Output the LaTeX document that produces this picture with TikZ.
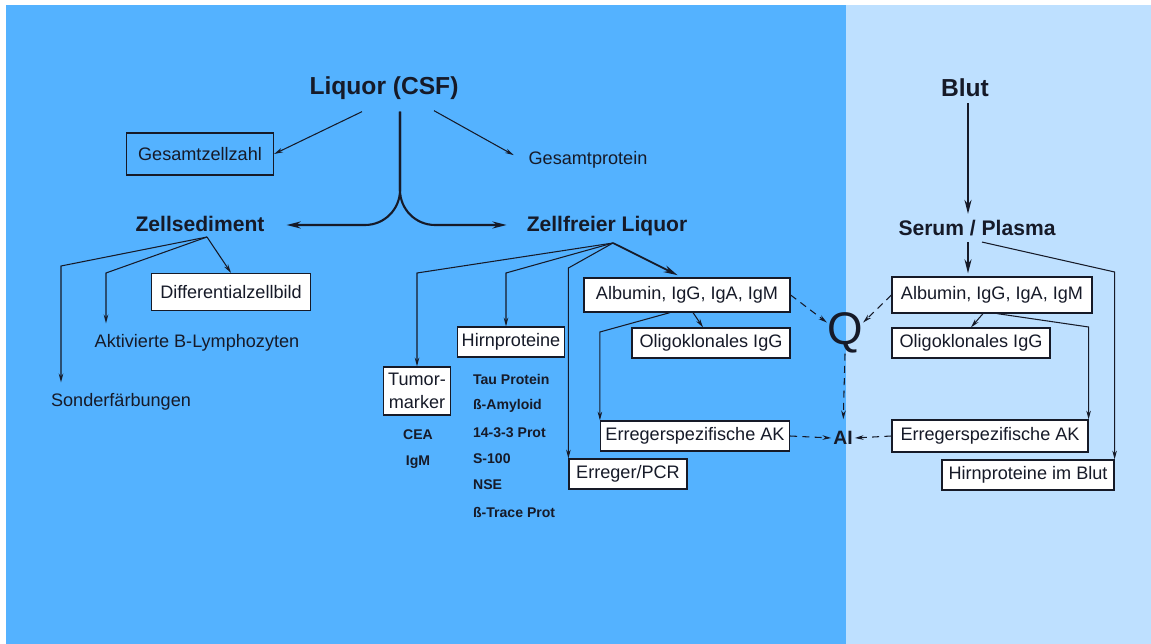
\documentclass[tikz,border=0pt]{standalone}
\usepackage{fontspec}
\setmainfont{Liberation Sans}
\usetikzlibrary{arrows.meta}
\definecolor{liquorblue}{RGB}{84,178,255}
\definecolor{blutblue}{RGB}{190,224,255}
\definecolor{ink}{RGB}{22,26,40}

\begin{document}
\begin{tikzpicture}[x=0.02cm,y=-0.02cm]
    \tikzstyle{every node}=[font=\fontsize{10.3}{12}\selectfont, text=ink]
    \tikzstyle{head}=[font=\fontsize{14}{16}\selectfont\bfseries]
    \tikzstyle{sub}=[font=\fontsize{12}{14}\selectfont\bfseries]
    \tikzstyle{box}=[draw=ink, fill=white, line width=0.7pt, inner xsep=1.5pt, inner ysep=0pt, minimum height=0.6cm]
    \tikzstyle{marker}=[font=\fontsize{8}{10}\selectfont\bfseries, inner sep=1pt]
    \tikzstyle{arr}=[draw=ink, line width=0.6pt, -{Stealth[length=5pt,width=2.6pt]}]
    \tikzstyle{fat}=[draw=ink, line width=1.2pt, -{Stealth[length=8pt,width=4pt]}]
    \tikzstyle{dasharr}=[arr, dash pattern=on 4pt off 3pt]

    \useasboundingbox (0,0) rectangle (1151,644);
    \fill[white] (0,0) rectangle (1151,644);
    \fill[liquorblue] (6,5) rectangle (846,644);
    \fill[blutblue] (846,5) rectangle (1151,644);

    \node[head] (liquor) at (384,88) {Liquor (CSF)};
    \node[head] (blut) at (965,88) {Blut};
    \node[box, fill=none, minimum width=2.94cm, minimum height=0.84cm] (gzz) at (200,154) {Gesamtzellzahl};
    \node (gprot) at (588,160) {Gesamtprotein};
    \node[sub] (zsed) at (200,224) {Zellsediment};
    \node[sub] (zfl) at (607,226) {Zellfreier Liquor};
    \node[sub] (serum) at (977,228) {Serum / Plasma};

    \node[box, minimum width=3.18cm, minimum height=0.74cm] (diff) at (231,292) {Differentialzellbild};
    \node (akt) at (197,343) {Aktivierte B-Lymphozyten};
    \node (sonder) at (121,402) {Sonderfärbungen};

    \node[box, align=center, font=\fontsize{10.3}{13}\selectfont, minimum width=1.34cm, minimum height=0.96cm] (tumor) at (417,391) {Tumor-\\marker};
    \node[marker] (cea) at (418,435) {CEA};
    \node[marker] (igm) at (418,462) {IgM};
    \node[box, minimum width=2.14cm] (hirn) at (511,342) {Hirnproteine};
    \node[marker, anchor=west] (tau) at (471,379) {Tau Protein};
    \node[marker, anchor=west] (amyloid) at (471,406) {ß-Amyloid};
    \node[marker, anchor=west] (prot1433) at (471,433) {14-3-3 Prot};
    \node[marker, anchor=west] (s100) at (471,459) {S-100};
    \node[marker, anchor=west] (nse) at (471,485) {NSE};
    \node[marker, anchor=west] (trace) at (471,512) {ß-Trace Prot};
    \node[box, minimum width=2.36cm] (pcr) at (628,474) {Erreger/PCR};

    \node[box, minimum width=4.12cm, minimum height=0.68cm] (albL) at (687,295) {Albumin, IgG, IgA, IgM};
    \node[box, minimum width=3.16cm] (oligoL) at (711,343) {Oligoklonales IgG};
    \node[box, minimum width=3.78cm] (erregL) at (695,436) {Erregerspezifische AK};

    \node[font=\fontsize{26}{28}\selectfont, inner sep=0pt] (q) at (845,333) {Q};
    \node[font=\fontsize{11}{13}\selectfont\bfseries, inner sep=1pt] (ai) at (843,438) {AI};

    \node[box, minimum width=4cm, minimum height=0.72cm] (albR) at (992,295) {Albumin, IgG, IgA, IgM};
    \node[box, minimum width=3.16cm] (oligoR) at (971,343) {Oligoklonales IgG};
    \node[box, minimum width=3.92cm, minimum height=0.64cm] (erregR) at (990,436) {Erregerspezifische AK};
    \node[box, minimum width=3.44cm] (hirnblut) at (1028,475) {Hirnproteine im Blut};

    \coordinate (split) at (400,225);
    \coordinate (zsedfork) at (207,237);
    \coordinate (zflfork) at (613,243);
    \coordinate (bluttop) at ([xshift=0.06cm]blut.south);

    \draw[fat, rounded corners=0.7cm, shorten >=0.32cm] (liquor.south -| split) ++(0,6) -- (split) -- (zsed.east |- split);
    \draw[fat, rounded corners=0.7cm, shorten >=0.28cm] (liquor.south -| split) ++(0,6) -- (split) -- (zfl.west |- split);
    \draw[arr] (liquor.south) ++(-22,6) -- (gzz.east);
    \draw[arr, shorten >=0.2cm] (liquor.south) ++(50,5) -- (gprot.west);

    \draw[arr] (zsedfork) -- (diff.north);
    \draw[arr, shorten >=0.1cm] (zsedfork) -- (106,273) -- (106,0 |- akt.north);
    \draw[arr, shorten >=0.1cm] (zsedfork) -- (61,266) -- (61,0 |- sonder.north);

    \draw[fat, line width=1pt, shorten >=0.1cm] (zflfork) -- ([xshift=-0.1cm]albL.north);
    \draw[arr] (zflfork) -- (tumor.north |- 0,273) -- (tumor.north);
    \draw[arr] (zflfork) -- (506,273) -- (506,0 |- hirn.north);
    \draw[arr] (zflfork) -- (pcr.north west |- 0,268) -- (pcr.north west);

    \draw[arr] ([xshift=0.12cm]albL.south) -- ([xshift=-0.16cm]oligoL.north);
    \draw[arr] ([xshift=-0.34cm]albL.south) -- (erregL.north west |- 0,332) -- (erregL.north west);

    \draw[dasharr] (albL.east) -- (q.150);
    \draw[dasharr] (albR.west) -- (q.30);
    \draw[dasharr, shorten >=0.2cm] (q.south) -- (ai.north);
    \draw[dasharr] (erregL.east) -- (ai.west);
    \draw[dasharr] (erregR.west) -- (ai.east);

    \draw[fat] (bluttop) -- (bluttop |- serum.north);
    \draw[fat, shorten >=0.06cm] (bluttop |- serum.south) -- (bluttop |- albR.north);
    \draw[arr] ([xshift=0.1cm]serum.south) -- (hirnblut.north east |- 0,272) -- (hirnblut.north east);
    \draw[arr] ([xshift=-0.18cm]albR.south) -- (oligoR.north);
    \draw[arr] ([xshift=0.1cm]albR.south) -- (erregR.north east |- 0,327) -- (erregR.north east);
\end{tikzpicture}
\end{document}
